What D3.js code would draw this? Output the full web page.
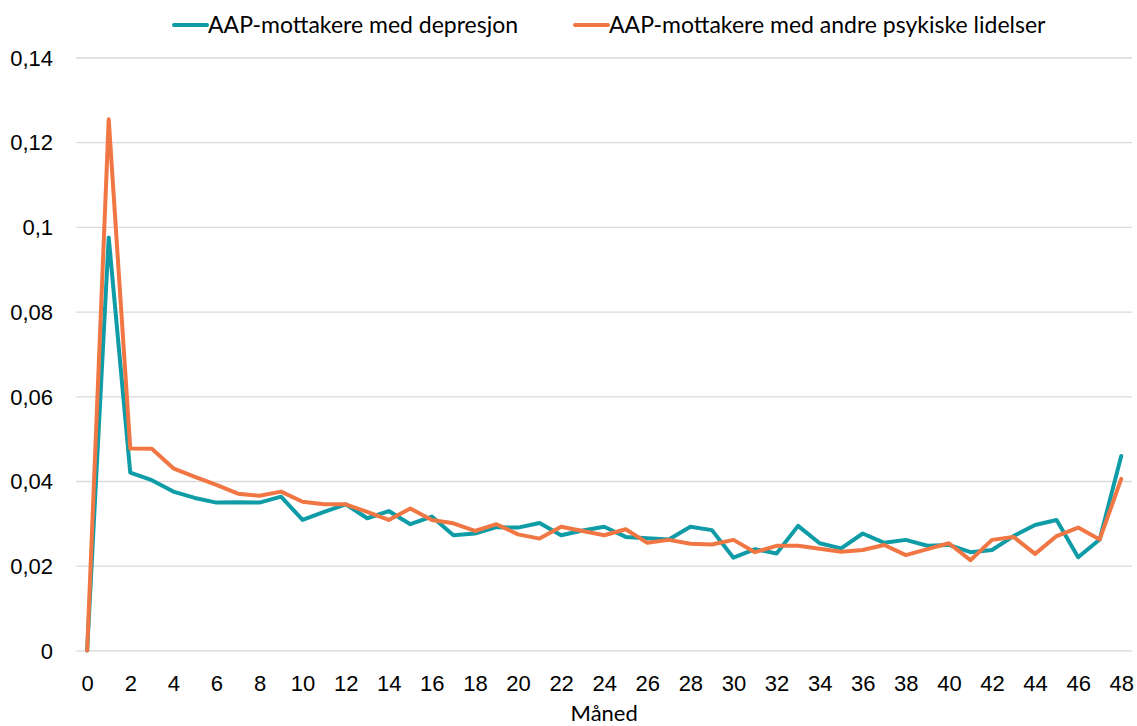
<!DOCTYPE html>
<html>
<head>
<meta charset="utf-8">
<script src="https://cdn.jsdelivr.net/npm/d3@7"></script>
<style>
  html, body { margin: 0; padding: 0; background: #fff; }
  svg { display: block; font-family: Lato, "Noto Sans", sans-serif; }
</style>
</head>
<body>
<svg id="chart" width="1137" height="726"></svg>
<script>
const months = d3.range(0, 49);
const depresjon = [0, 0.0975, 0.0420, 0.0402, 0.0375, 0.0360, 0.0349, 0.0350, 0.0349, 0.0363,
  0.0308, 0.0327, 0.0345, 0.0312, 0.0329, 0.0298, 0.0316, 0.0272, 0.0276, 0.0291,
  0.0290, 0.0301, 0.0272, 0.0283, 0.0292, 0.0268, 0.0265, 0.0262, 0.0292, 0.0284,
  0.0219, 0.0239, 0.0229, 0.0294, 0.0253, 0.0241, 0.0276, 0.0254, 0.0261, 0.0247,
  0.0249, 0.0232, 0.0237, 0.0270, 0.0296, 0.0308, 0.0220, 0.0262, 0.0459];
const andre = [0, 0.1254, 0.0477, 0.0476, 0.0430, 0.0410, 0.0391, 0.0370, 0.0365, 0.0375,
  0.0351, 0.0345, 0.0345, 0.0327, 0.0308, 0.0335, 0.0308, 0.0300, 0.0282, 0.0298,
  0.0274, 0.0264, 0.0292, 0.0282, 0.0272, 0.0286, 0.0254, 0.0261, 0.0252, 0.0250,
  0.0261, 0.0232, 0.0247, 0.0247, 0.0240, 0.0233, 0.0237, 0.0249, 0.0225, 0.0239,
  0.0253, 0.0213, 0.0261, 0.0268, 0.0228, 0.0270, 0.0290, 0.0262, 0.0405];
const seriesNames = ["AAP-mottakere med depresjon", "AAP-mottakere med andre psykiske lidelser"];
const seriesColors = ["#0F9CA6", "#F07744"];
const yTicks = [0, 0.02, 0.04, 0.06, 0.08, 0.1, 0.12, 0.14];
const yTickLabels = ["0", "0,02", "0,04", "0,06", "0,08", "0,1", "0,12", "0,14"];
const xTicks = d3.range(0, 49, 2);
const xTitle = "Måned";

const svg = d3.select("#chart");
const plotL = 76.4, plotR = 1132, plotT = 57.5, plotB = 650.4;
const x = d3.scaleLinear().domain([-0.5, 48.5]).range([plotL, plotR]);
const y = d3.scaleLinear().domain([0, 0.14]).range([plotB, plotT]);

const yAxis = d3.axisLeft(y).tickValues(yTicks).tickSize(-(plotR - plotL))
  .tickFormat((d, i) => yTickLabels[i]);
const gy = svg.append("g").attr("transform", `translate(${plotL},0)`).call(yAxis);
gy.select(".domain").remove();
gy.selectAll(".tick line").attr("stroke", "#D9D9D9").attr("stroke-width", 1.3);
gy.selectAll(".tick text").attr("font-size", 22).attr("fill", "#000").attr("x", 53 - plotL).attr("dy", "0.35em");

const xAxis = d3.axisBottom(x).tickValues(xTicks).tickSize(0).tickFormat(d => String(d));
const gx = svg.append("g").attr("transform", `translate(0,${plotB})`).call(xAxis);
gx.select(".domain").remove();
gx.selectAll(".tick text").attr("font-size", 22).attr("fill", "#000").attr("y", 33).attr("dy", "0.35em");

svg.append("text").attr("x", (plotL + plotR) / 2).attr("y", 713).attr("dy", "0.35em")
  .attr("text-anchor", "middle").attr("font-size", 22).attr("fill", "#000").text(xTitle);

const line = d3.line().x((d, i) => x(months[i])).y(d => y(d));
[depresjon, andre].forEach((s, k) => {
  svg.append("path").datum(s).attr("d", line).attr("fill", "none")
    .attr("stroke", seriesColors[k]).attr("stroke-width", 4)
    .attr("stroke-linejoin", "round").attr("stroke-linecap", "round");
});

const legendX = [174, 575];
seriesNames.forEach((n, k) => {
  const g = svg.append("g").attr("transform", `translate(${legendX[k]},25)`);
  g.append("line").attr("x1", 0).attr("x2", 33).attr("y1", 0).attr("y2", 0)
    .attr("stroke", seriesColors[k]).attr("stroke-width", 4).attr("stroke-linecap", "round");
  g.append("text").attr("x", 34).attr("dy", "0.35em").attr("font-size", 23).attr("fill", "#000").text(n);
});
</script>
</body>
</html>
